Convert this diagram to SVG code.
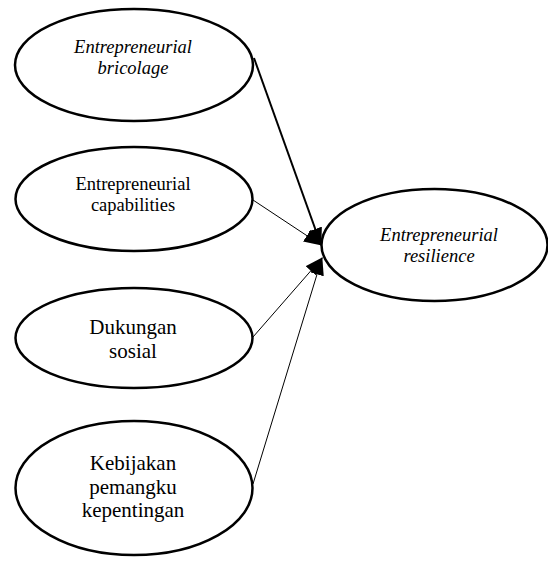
<svg xmlns="http://www.w3.org/2000/svg" width="548" height="563" viewBox="0 0 548 563">
<style>
.node ellipse{fill:#fff;stroke:#000;stroke-width:2.5}
text{font-family:"Liberation Serif","Times New Roman",serif;fill:#000;text-anchor:middle}
.s{font-size:18.5px}
.l{font-size:21px}
.i{font-style:italic}
.edge{stroke:#000;stroke-width:1;fill:none}
.thick{stroke-width:2}
</style>
<defs>
<marker id="ah" markerWidth="18" markerHeight="14" refX="17" refY="7" orient="auto" markerUnits="userSpaceOnUse">
<path d="M0,0 L18,7 L0,14 Z" fill="#000"/>
</marker>
</defs>
<rect width="548" height="563" fill="#fff"/>
<g id="connectors">
<line class="edge thick" x1="254" y1="58" x2="321" y2="245" marker-end="url(#ah)"/>
<line class="edge" x1="253" y1="200" x2="321" y2="245" marker-end="url(#ah)"/>
<line class="edge" x1="253" y1="337" x2="322" y2="258" marker-end="url(#ah)"/>
<line class="edge" x1="253" y1="484" x2="322" y2="258" marker-end="url(#ah)"/>
</g>
<g id="bricolage" class="node">
<ellipse cx="134" cy="65" rx="119" ry="56"/>
<text class="s i" x="133" y="53">Entrepreneurial</text>
<text class="s i" x="133" y="74">bricolage</text>
</g>
<g id="capabilities" class="node">
<ellipse cx="134" cy="199" rx="118.5" ry="52"/>
<text class="s" x="133" y="190">Entrepreneurial</text>
<text class="s" x="133" y="211">capabilities</text>
</g>
<g id="dukungan" class="node">
<ellipse cx="134" cy="338" rx="118.5" ry="50"/>
<text class="l" x="133" y="334">Dukungan</text>
<text class="l" x="133" y="358">sosial</text>
</g>
<g id="kebijakan" class="node">
<ellipse cx="134" cy="488" rx="118.5" ry="67"/>
<text class="l" x="133" y="470">Kebijakan</text>
<text class="l" x="133" y="494">pemangku</text>
<text class="l" x="133" y="517">kepentingan</text>
</g>
<g id="resilience" class="node">
<ellipse cx="434.5" cy="245" rx="113" ry="56"/>
<text class="s i" x="439" y="241">Entrepreneurial</text>
<text class="s i" x="439" y="262">resilience</text>
</g>
</svg>
